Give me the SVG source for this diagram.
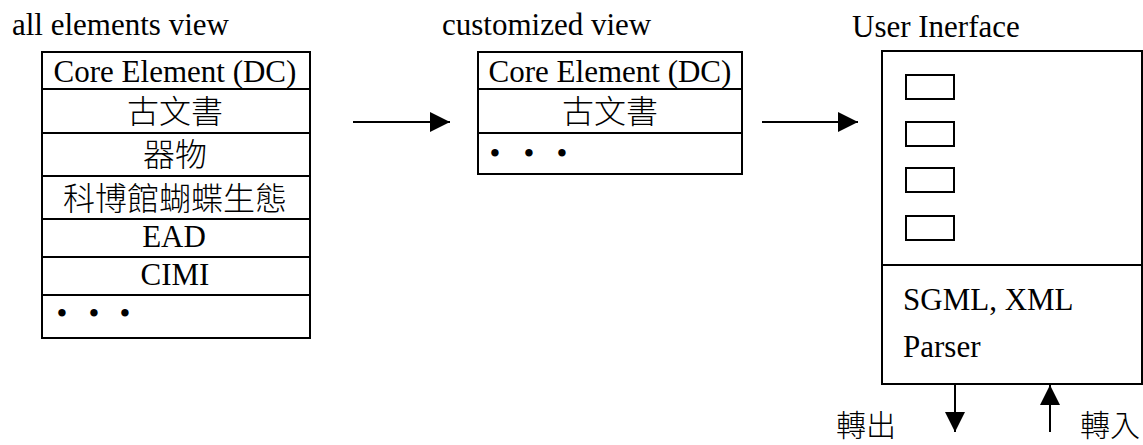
<svg xmlns="http://www.w3.org/2000/svg" width="1143" height="445" viewBox="0 0 1143 445">
<style>
.t{font-family:"Liberation Serif","Times New Roman",serif;font-size:31px;fill:#000}
.c{font-family:"Noto Sans CJK TC","Noto Sans CJK SC",sans-serif;font-size:32px;fill:#000;font-weight:300}
.m{text-anchor:middle}
.box{fill:#fff;stroke:#000;stroke-width:2}
.ln{stroke:#000;stroke-width:2;fill:none}
</style>
<defs>
<marker id="ah" viewBox="0 0 20 20" refX="20" refY="10" markerWidth="20" markerHeight="20" markerUnits="userSpaceOnUse" orient="auto">
<path d="M0,0 L20,10 L0,20 Z" fill="#000"/>
</marker>
</defs>
<g id="all-elements-view">
<text class="t" x="12" y="35">all elements view</text>
<rect class="box" x="42" y="52" width="268" height="286"/>
<path class="ln" d="M42,89H310M42,133H310M42,176H310M42,219H310M42,257H310M42,295H310"/>
<text class="t m" x="175" y="82">Core Element (DC)</text>
<text class="c m" x="175" y="123">古文書</text>
<text class="c m" x="175" y="166">器物</text>
<text class="c m" x="175" y="210">科博館蝴蝶生態</text>
<text class="t m" x="174" y="247">EAD</text>
<text class="t m" x="175" y="285">CIMI</text>
<text class="t m" x="62 78 94 110 125" y="324">• • •</text>
</g>
<g id="customized-view">
<text class="t" x="442" y="35">customized view</text>
<rect class="box" x="478" y="52" width="264" height="122"/>
<path class="ln" d="M478,89H742M478,133H742"/>
<text class="t m" x="610" y="82">Core Element (DC)</text>
<text class="c m" x="610" y="123">古文書</text>
<text class="t m" x="495 512 529 545 562" y="164">• • •</text>
</g>
<g id="user-interface">
<text class="t" x="852" y="37">User Inerface</text>
<rect class="box" x="882" y="51" width="260" height="333"/>
<path class="ln" d="M882,265H1142"/>
<rect class="box" x="906" y="75" width="48" height="24"/>
<rect class="box" x="906" y="122" width="48" height="24"/>
<rect class="box" x="906" y="168" width="48" height="24"/>
<rect class="box" x="906" y="216" width="48" height="24"/>
<text class="t" x="903" y="310">SGML, XML</text>
<text class="t" x="903" y="357">Parser</text>
</g>
<g id="labels">
<text class="c" x="836" y="436" style="font-size:30px">轉出</text>
<text class="c" x="1080" y="436" style="font-size:30px">轉入</text>
</g>
<g id="connectors">
<path class="ln" d="M955,384V432" marker-end="url(#ah)"/>
<path class="ln" d="M1050,432V385" marker-end="url(#ah)"/>
<path class="ln" d="M353,122H450" marker-end="url(#ah)"/>
<path class="ln" d="M762,122H858" marker-end="url(#ah)"/>
</g>
</svg>
